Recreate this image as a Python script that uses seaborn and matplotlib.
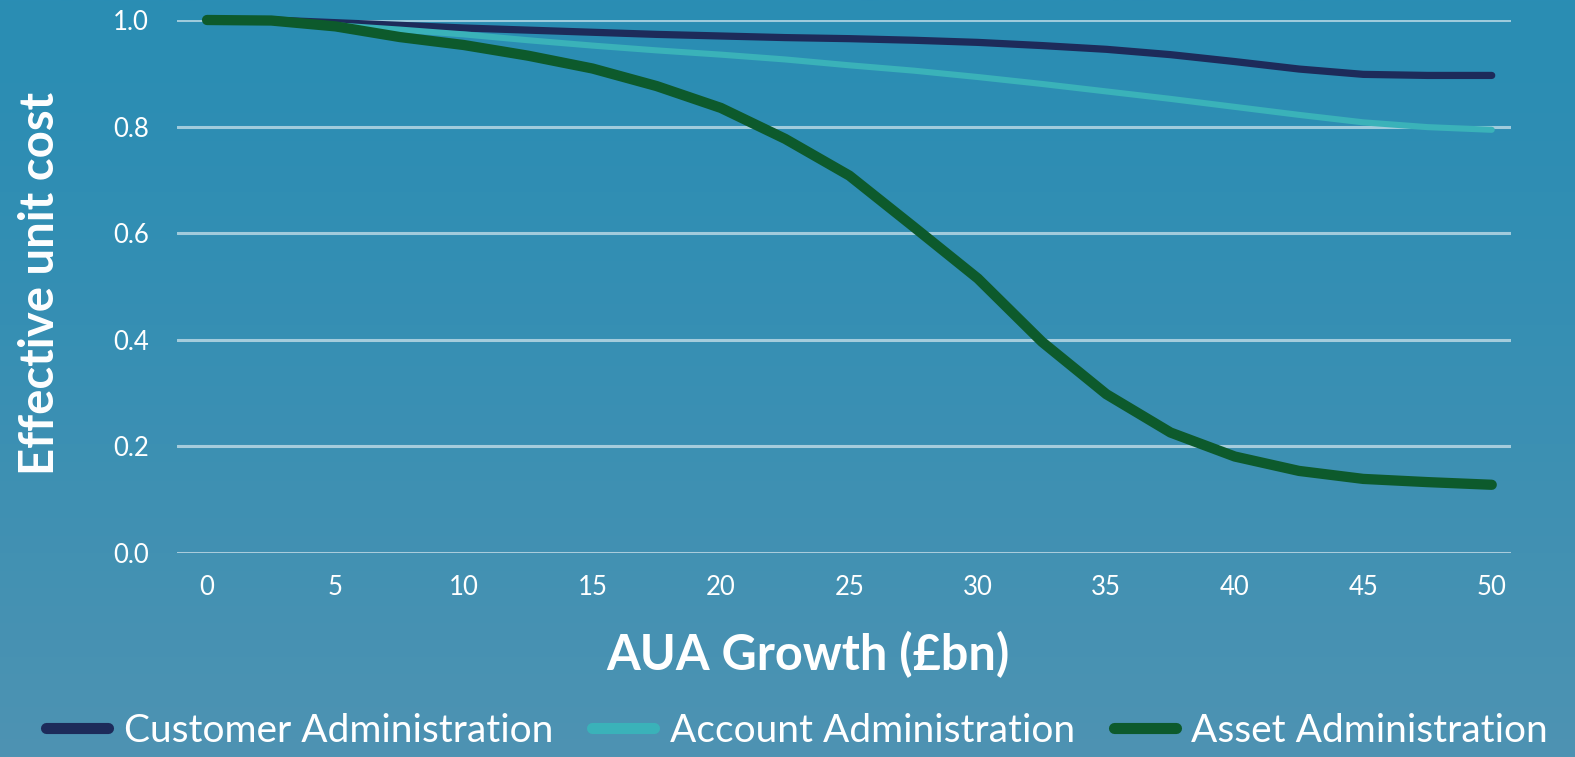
import numpy as np
import pandas as pd
import matplotlib.pyplot as plt
import seaborn as sns

# AUA growth in £bn (sampled every 2.5)
aua = [0, 2.5, 5, 7.5, 10, 12.5, 15, 17.5, 20, 22.5, 25,
       27.5, 30, 32.5, 35, 37.5, 40, 42.5, 45, 47.5, 50]

customer_admin = [1.0, 1.0, 0.995, 0.99, 0.985, 0.981, 0.977, 0.973, 0.97, 0.967, 0.965,
                  0.962, 0.958, 0.952, 0.945, 0.935, 0.922, 0.908, 0.898, 0.896, 0.896]
account_admin = [1.0, 0.999, 0.99, 0.982, 0.973, 0.962, 0.952, 0.943, 0.935, 0.926, 0.915,
                 0.905, 0.893, 0.88, 0.866, 0.852, 0.837, 0.822, 0.808, 0.799, 0.794]
asset_admin = [1.0, 0.999, 0.988, 0.968, 0.953, 0.933, 0.909, 0.876, 0.835, 0.777, 0.708,
               0.612, 0.515, 0.396, 0.298, 0.226, 0.181, 0.154, 0.139, 0.133, 0.128]

series_names = ['Customer Administration', 'Account Administration', 'Asset Administration']
series_colors = ['#1d2b5a', '#3ab2b9', '#0d5a2c']
series_widths = [5.2, 4.4, 7.4]

x_ticks = [0, 5, 10, 15, 20, 25, 30, 35, 40, 45, 50]
y_ticks = [0.0, 0.2, 0.4, 0.6, 0.8, 1.0]

df = pd.DataFrame({
    'AUA': aua * 3,
    'cost': customer_admin + account_admin + asset_admin,
    'series': [series_names[0]] * len(aua) + [series_names[1]] * len(aua) + [series_names[2]] * len(aua),
})

sns.set_theme(style='white')
plt.rcParams['font.family'] = ['Lato', 'DejaVu Sans']

fig = plt.figure(figsize=(15.75, 7.57), dpi=100)

# gradient background
bg = fig.add_axes([0, 0, 1, 1], zorder=-10)
grad = np.linspace(0, 1, 256).reshape(-1, 1)
top = np.array([42, 141, 180]) / 255
bottom = np.array([78, 147, 178]) / 255
img = top + (bottom - top) * grad[:, :, None] ** 1.3
bg.imshow(img, aspect='auto', extent=[0, 1, 0, 1])
bg.axis('off')

ax = fig.add_axes([177 / 1575, 1 - 553 / 757, (1511 - 177) / 1575, (553 - 20) / 757])
ax.patch.set_alpha(0)

for name, col, lw in zip(series_names, series_colors, series_widths):
    sns.lineplot(data=df[df['series'] == name], x='AUA', y='cost', color=col,
                 linewidth=lw, label=name, ax=ax, solid_capstyle='round',
                 solid_joinstyle='round', clip_on=False, zorder=3)

ax.set_xlim(-1.17, 50.75)
ax.set_ylim(0, 1.0)
ax.set_xticks(x_ticks)
ax.set_yticks(y_ticks)
ax.set_yticklabels([f'{v:.1f}' for v in y_ticks])
ax.tick_params(axis='both', colors='white', labelsize=18.5, length=0)
ax.tick_params(axis='y', pad=20)
ax.tick_params(axis='x', pad=16)
for s in ax.spines.values():
    s.set_visible(False)
ax.grid(axis='y', color='white', alpha=0.55, linewidth=2.2)
ax.grid(axis='x', visible=False)
ax.set_axisbelow(True)

ax.set_xlabel('')
ax.set_ylabel('')
fig.text(808 / 1575, 1 - 655 / 757, 'AUA Growth (£bn)', color='white', fontsize=35,
         fontweight='bold', ha='center', va='center')
fig.text(40 / 1575, 1 - 283 / 757, 'Effective unit cost', color='white', fontsize=34,
         fontweight='bold', ha='center', va='center', rotation=90)

handles, labels = ax.get_legend_handles_labels()
leg = ax.legend(handles, labels, loc='center', bbox_to_anchor=(797 / 1575, 1 - 731 / 757),
                bbox_transform=fig.transFigure, ncol=3, frameon=False, fontsize=28,
                handlelength=1.6, handletextpad=0.4, columnspacing=1.0, labelcolor='white')
for line in leg.get_lines():
    line.set_linewidth(8)
    line.set_solid_capstyle('round')

fig.savefig('out.png', dpi=100)
